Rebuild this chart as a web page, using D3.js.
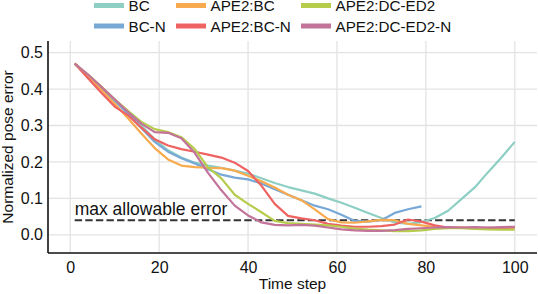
<!DOCTYPE html>
<html>
<head>
<meta charset="utf-8">
<script src="https://cdn.jsdelivr.net/npm/d3@7"></script>
<style>
  body { margin: 0; background: #fff; }
  text { font-family: "Liberation Sans", Arial, sans-serif; fill: #111; }
</style>
</head>
<body>
<div id="chart"></div>
<script>
const steps = [1, 4, 7, 10, 13, 16, 19, 22, 25, 28, 31, 34, 37, 40, 43, 46, 49, 52, 55, 58,
  61, 64, 67, 70, 73, 76, 79, 82, 85, 88, 91, 94, 97, 100];

const bc = [0.47, 0.438, 0.405, 0.37, 0.335, 0.30, 0.262, 0.232, 0.212, 0.198, 0.19, 0.184, 0.176, 0.168,
  0.155, 0.142, 0.131, 0.122, 0.113, 0.10, 0.088, 0.074, 0.06, 0.046, 0.034, 0.03, 0.035, 0.046,
  0.066, 0.098, 0.13, 0.172, 0.212, 0.255];
const bcN = [0.47, 0.437, 0.403, 0.368, 0.332, 0.293, 0.255, 0.228, 0.21, 0.196, 0.18, 0.165, 0.157, 0.152,
  0.141, 0.125, 0.11, 0.095, 0.08, 0.07, 0.055, 0.038, 0.036, 0.04, 0.06, 0.07, 0.078,
  null, null, null, null, null, null, null];
const apeBc = [0.47, 0.435, 0.398, 0.36, 0.32, 0.278, 0.238, 0.207, 0.19, 0.186, 0.184, 0.183, 0.176, 0.162,
  0.147, 0.13, 0.11, 0.095, 0.07, 0.043, 0.034, 0.033, 0.037, 0.041, 0.04, 0.03, 0.026, 0.022,
  0.02, 0.02, 0.019, 0.018, 0.018, 0.02];
const apeBcN = [0.47, 0.43, 0.39, 0.352, 0.328, 0.294, 0.262, 0.245, 0.235, 0.228, 0.22, 0.212, 0.198, 0.175,
  0.135, 0.085, 0.052, 0.045, 0.04, 0.03, 0.025, 0.022, 0.022, 0.024, 0.028, 0.042, 0.036, 0.026,
  0.02, 0.019, 0.018, 0.019, 0.018, 0.02];
const apeDc = [0.47, 0.44, 0.407, 0.372, 0.34, 0.31, 0.29, 0.282, 0.268, 0.235, 0.185, 0.155, 0.11, 0.085,
  0.062, 0.038, 0.032, 0.03, 0.028, 0.026, 0.022, 0.017, 0.014, 0.012, 0.01, 0.01, 0.012, 0.016,
  0.018, 0.018, 0.016, 0.015, 0.014, 0.014];
const apeDcN = [0.47, 0.44, 0.406, 0.372, 0.337, 0.305, 0.282, 0.28, 0.265, 0.225, 0.17, 0.122, 0.08, 0.053,
  0.034, 0.027, 0.026, 0.027, 0.025, 0.02, 0.015, 0.012, 0.011, 0.011, 0.013, 0.016, 0.018, 0.02,
  0.021, 0.02, 0.021, 0.02, 0.021, 0.022];

const seriesNames = ["BC", "BC-N", "APE2:BC", "APE2:BC-N", "APE2:DC-ED2", "APE2:DC-ED2-N"];
const seriesValues = [bc, bcN, apeBc, apeBcN, apeDc, apeDcN];
const colors = ["#8ecfc4", "#78a8d6", "#f8aa4e", "#ee6262", "#b6cc4c", "#c27399"];

const xTicks = [0, 20, 40, 60, 80, 100];
const yTicks = [0.0, 0.1, 0.2, 0.3, 0.4, 0.5];
const threshold = 0.04;
const thresholdLabel = "max allowable error";

const width = 538, height = 294;
const margin = { top: 41, right: 1, bottom: 41, left: 48 };
const innerW = width - margin.left - margin.right;
const innerH = height - margin.top - margin.bottom;

const svg = d3.select("#chart").append("svg")
    .attr("width", width)
    .attr("height", height);

const g = svg.append("g")
    .attr("transform", `translate(${margin.left},${margin.top})`);

const x = d3.scaleLinear().domain([-5, 105]).range([0, innerW]);
const y = d3.scaleLinear().domain([-0.05, 0.532]).range([innerH, 0]);

// grid
g.append("g").selectAll("line").data(xTicks).enter().append("line")
    .attr("x1", (d) => x(d)).attr("x2", (d) => x(d))
    .attr("y1", 0).attr("y2", innerH)
    .attr("stroke", "#e3e3e3").attr("stroke-width", 1.3);
g.append("g").selectAll("line").data(yTicks).enter().append("line")
    .attr("x1", 0).attr("x2", innerW)
    .attr("y1", (d) => y(d)).attr("y2", (d) => y(d))
    .attr("stroke", "#e3e3e3").attr("stroke-width", 1.3);

// axes (labels only, spines drawn below)
const xAxis = g.append("g")
    .attr("transform", `translate(0,${innerH})`)
    .call(d3.axisBottom(x).tickValues(xTicks).tickSize(0).tickPadding(9).tickFormat(d3.format("d")));
const yAxis = g.append("g")
    .call(d3.axisLeft(y).tickValues(yTicks).tickSize(0).tickPadding(5).tickFormat(d3.format(".1f")));
[xAxis, yAxis].forEach((a) => {
  a.select(".domain").remove();
  a.selectAll("text").attr("font-size", 16).attr("font-family", "Liberation Sans, Arial, sans-serif").attr("fill", "#111");
});

// threshold line
g.append("line")
    .attr("x1", x(1)).attr("x2", x(100))
    .attr("y1", y(threshold)).attr("y2", y(threshold))
    .attr("stroke", "#333").attr("stroke-width", 2)
    .attr("stroke-dasharray", "7.4,3.2");
g.append("text")
    .attr("x", x(1)).attr("y", y(threshold) - 5.3)
    .attr("font-size", 17.5)
    .attr("fill", "#222")
    .text(thresholdLabel);

// lines
const line = d3.line()
    .defined((d) => d[1] !== null)
    .x((d) => x(d[0]))
    .y((d) => y(d[1]));

seriesValues.forEach((vals, i) => {
  g.append("path")
      .datum(steps.map((s, j) => [s, vals[j]]))
      .attr("fill", "none")
      .attr("stroke", colors[i])
      .attr("stroke-width", 2.2)
      .attr("stroke-linejoin", "round")
      .attr("d", line);
});

// spines
g.append("line").attr("x1", 0).attr("x2", 0).attr("y1", 0).attr("y2", innerH)
    .attr("stroke", "#111").attr("stroke-width", 1.6);
g.append("line").attr("x1", 0).attr("x2", innerW).attr("y1", innerH).attr("y2", innerH)
    .attr("stroke", "#111").attr("stroke-width", 1.6);

// axis titles
svg.append("text")
    .attr("x", margin.left + innerW / 2).attr("y", 288.5)
    .attr("text-anchor", "middle").attr("font-size", 15.5)
    .text("Time step");
svg.append("text")
    .attr("transform", `translate(12.5,${margin.top + innerH / 2}) rotate(-90)`)
    .attr("text-anchor", "middle").attr("font-size", 15.5)
    .text("Normalized pose error");

// legend, 3 columns x 2 rows, filled column-wise
const legendCols = [94, 176, 301];
const legendRows = [5.5, 26];
const legend = svg.append("g").selectAll("g").data(seriesNames).enter().append("g")
    .attr("transform", (d, i) => `translate(${legendCols[Math.floor(i / 2)]},${legendRows[i % 2]})`);
legend.append("line")
    .attr("x1", 0).attr("x2", 30).attr("y1", 0).attr("y2", 0)
    .attr("stroke", (d, i) => colors[i]).attr("stroke-width", 5);
legend.append("text")
    .attr("x", 34.5).attr("y", 5.5)
    .attr("font-size", 15.2)
    .text((d) => d);
</script>
</body>
</html>
